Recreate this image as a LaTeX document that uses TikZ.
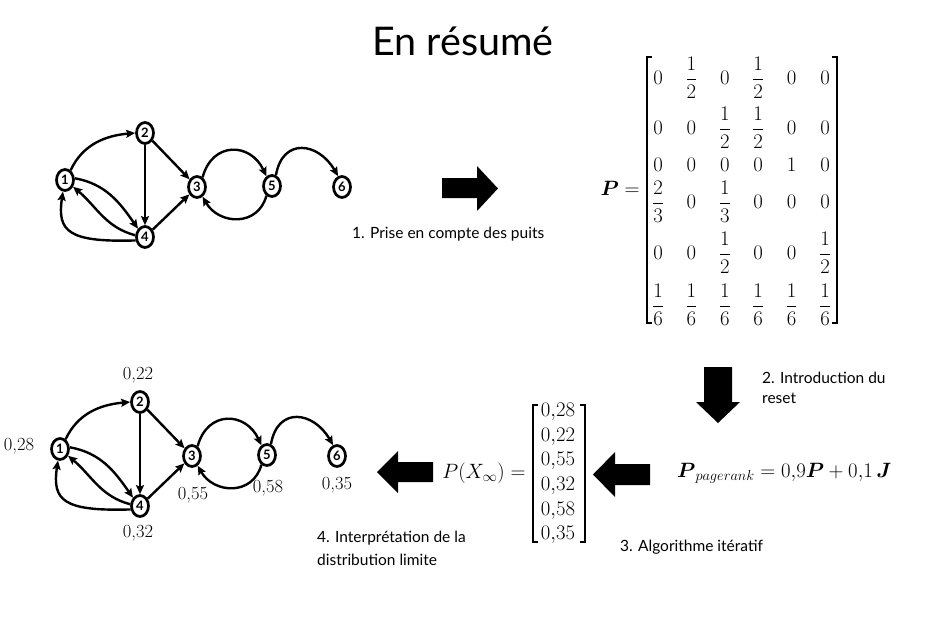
\documentclass[tikz,border=0pt]{standalone}
\usepackage{amsmath}
\usepackage{fontspec}
\newfontfamily\gs{Lato}
\usetikzlibrary{shapes.geometric,arrows.meta}
\newcommand\mygraph[1]{%
  \node[gnode] (#1a) at (65,180) {1};
  \node[gnode] (#1b) at (145,133) {2};
  \node[gnode] (#1c) at (197,187) {3};
  \node[gnode] (#1d) at (145,237) {4};
  \node[gnode] (#1e) at (272,186) {5};
  \node[gnode] (#1f) at (342,187) {6};
  \draw[edge] (#1a.60) to[out=65,in=185] (#1b.west);
  \draw[edge] (#1b) -- (#1d);
  \draw[edge] (#1b) -- (#1c);
  \draw[edge] (#1d) -- (#1c);
  \draw[edge] (#1a.10) to[out=-10,in=125] (#1d.130);
  \draw[edge] (#1d.170) to[out=165,in=-40] (#1a.-40);
  \draw[edge] (#1d.200) .. controls +(-67,2) and +(-6,40) .. (#1a.-100);
  \draw[edge] (#1c.60) to[out=75,in=115,looseness=1.5] (#1e.120);
  \draw[edge] (#1e.-120) to[out=-105,in=-60,looseness=1.3] (#1c.-60);
  \draw[edge] (#1e.70) to[out=80,in=120,looseness=1.6] (#1f.110);
}
\begin{document}
\begin{tikzpicture}[x=1pt,y=-1pt,
  gnode/.style={ellipse,draw,line width=2.7pt,minimum width=17pt,minimum height=21pt,inner sep=0pt,font=\gs\bfseries\fontsize{13}{13}\selectfont},
  edge/.style={line width=2.4pt,-{Stealth[length=9pt,width=8pt,inset=1.5pt]}},
  lbl/.style={font=\gs\fontsize{15.5}{19}\selectfont,anchor=base west,inner sep=0pt},
  val/.style={font=\fontsize{18.5}{20}\selectfont,inner sep=0pt},
  ent/.style={font=\fontsize{20}{24}\selectfont,inner sep=0pt},
  brk/.style={line width=1.8pt}]
\useasboundingbox[fill=white] (0,0) rectangle (926,625);

% title
\node[font=\gs\fontsize{39.5}{40}\selectfont,anchor=base,inner sep=0pt] (title) at (463,55) {En résumé};

% top graph
\mygraph{t}

% bottom graph
\begin{scope}[shift={(-5,269)}]
\mygraph{b}
\end{scope}

% values
\node[val] (l1) at (19,446) {0,28};
\node[val] (l2) at (138,375) {0,22};
\node[val] (l3) at (193,495) {0,55};
\node[val] (l5) at (268,488) {0,58};
\node[val] (l6) at (337,485) {0,35};
\node[val] (l4) at (138,533) {0,32};

% block arrows
\fill (442,178) -- (477,178) -- (477,166) -- (498,188.5) -- (477,211) -- (477,198) -- (442,198) -- cycle;
\fill (704,367) -- (704,402) -- (696,402) -- (718,423) -- (740,402) -- (732,402) -- (732,367) -- cycle;
\fill (650,464) -- (615,464) -- (615,452) -- (593,474.5) -- (615,497) -- (615,485) -- (650,485) -- cycle;
\fill (433,462) -- (398,462) -- (398,451) -- (377,472) -- (398,493) -- (398,482) -- (433,482) -- cycle;

% step labels
\node[lbl] (s1) at (352,238) {1. Prise en compte des puits};
\node[lbl] (s2a) at (762,383) {2. Introduction du};
\node[lbl] (s2b) at (762,403) {reset};
\node[lbl] (s3) at (620,551) {3. Algorithme itératif};
\node[lbl] (s4a) at (317,542) {4. Interprétation de la};
\node[lbl] (s4b) at (317,565) {distribution limite};

% matrix P
\node[ent] (peq) at (620,188) {$\boldsymbol{P} =$};
\draw[brk] (652,57) -- (647,57) -- (647,323) -- (652,323);
\draw[brk] (832,57) -- (837,57) -- (837,323) -- (832,323);
\foreach \e [count=\c] in {0,\dfrac12,0,\dfrac12,0,0}
  \node[ent] (m1\c) at ({658+33.4*(\c-1)},78) {$\e$};
\foreach \e [count=\c] in {0,0,\dfrac12,\dfrac12,0,0}
  \node[ent] (m2\c) at ({658+33.4*(\c-1)},128) {$\e$};
\foreach \e [count=\c] in {0,0,0,0,1,0}
  \node[ent] (m3\c) at ({658+33.4*(\c-1)},165) {$\e$};
\foreach \e [count=\c] in {\dfrac23,0,\dfrac13,0,0,0}
  \node[ent] (m4\c) at ({658+33.4*(\c-1)},202) {$\e$};
\foreach \e [count=\c] in {0,0,\dfrac12,0,0,\dfrac12}
  \node[ent] (m5\c) at ({658+33.4*(\c-1)},253) {$\e$};
\foreach \e [count=\c] in {\dfrac16,\dfrac16,\dfrac16,\dfrac16,\dfrac16,\dfrac16}
  \node[ent] (m6\c) at ({658+33.4*(\c-1)},305) {$\e$};

% pagerank equation
\node[ent,anchor=base west,font=\fontsize{21}{24}\selectfont] (prk) at (677,477) {$\boldsymbol{P}_{pagerank} = 0{,}9\boldsymbol{P} + 0{,}1\,\boldsymbol{J}$};

% limit vector
\node[ent] (pinf) at (484,473) {$P(X_\infty) =$};
\draw[brk] (538,405) -- (533,405) -- (533,542) -- (538,542);
\draw[brk] (580,405) -- (585,405) -- (585,542) -- (580,542);
\foreach \e [count=\c] in {28,22,55,32,58,35}
  \node[ent] (v\c) at (558,{412+24.6*(\c-1)}) {$0{,}\e$};
\end{tikzpicture}
\end{document}
